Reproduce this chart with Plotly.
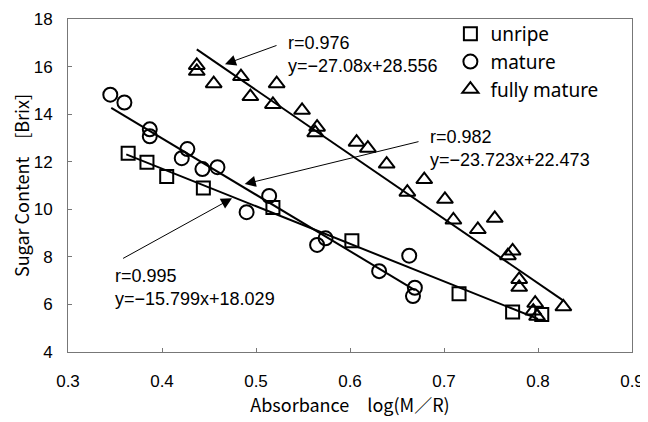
import plotly.graph_objects as go

# ---- data ----
unripe_x = [0.364, 0.384, 0.405, 0.444, 0.518, 0.602, 0.716, 0.773, 0.804]
unripe_y = [12.36, 11.98, 11.38, 10.90, 10.08, 8.68, 6.45, 5.68, 5.58]

mature_x = [0.345, 0.360, 0.387, 0.387, 0.427, 0.421, 0.443, 0.459, 0.514, 0.490,
            0.565, 0.574, 0.631, 0.663, 0.669, 0.667]
mature_y = [14.82, 14.49, 13.36, 13.07, 12.53, 12.15, 11.69, 11.77, 10.56, 9.88,
            8.50, 8.78, 7.40, 8.05, 6.70, 6.35]

fully_x = [0.437, 0.437, 0.455, 0.484, 0.522, 0.494, 0.518, 0.549, 0.565, 0.563,
           0.607, 0.619, 0.639, 0.679, 0.661, 0.701, 0.710, 0.736, 0.754, 0.768,
           0.773, 0.780, 0.780, 0.797, 0.795, 0.799, 0.827]
fully_y = [16.05, 15.80, 15.28, 15.58, 15.28, 14.74, 14.41, 14.16, 13.45, 13.22,
           12.82, 12.57, 11.90, 11.25, 10.72, 10.42, 9.55, 9.15, 9.62, 8.05,
           8.25, 7.05, 6.72, 6.05, 5.72, 5.50, 5.90]

series_names = ["unripe", "mature", "fully mature"]
series_symbols = ["square-open", "circle-open", "triangle-up-open"]

# regression lines (from the equations printed in the chart)
fit_slope = [-15.799, -23.723, -27.08]
fit_intercept = [18.029, 22.473, 28.556]
fit_x_start = [0.362, 0.346, 0.437]
fit_x_end = [0.800, 0.669, 0.827]
fit_r = ["0.995", "0.982", "0.976"]

x_ticks = [0.3, 0.4, 0.5, 0.6, 0.7, 0.8, 0.9]
y_ticks = [4, 6, 8, 10, 12, 14, 16, 18]

# label positions (data coords, top-left of each label block)
label_pos = [(0.348, 7.71), (0.683, 13.56), (0.532, 17.50)]
arrow_tail = [(0.357, 7.90), (0.6745, 12.86), (0.5234, 16.91)]
arrow_tip = [(0.4745, 10.46), (0.488, 11.06), (0.467, 16.10)]

fig = go.Figure()

xs = [unripe_x, mature_x, fully_x]
ys = [unripe_y, mature_y, fully_y]
sizes = [13, 14, 14]

for i in range(3):
    x0, x1 = fit_x_start[i], fit_x_end[i]
    fig.add_trace(go.Scatter(
        x=[x0, x1],
        y=[fit_slope[i] * x0 + fit_intercept[i], fit_slope[i] * x1 + fit_intercept[i]],
        mode="lines", line=dict(color="black", width=2), showlegend=False,
        hoverinfo="skip"))

for i in range(3):
    fig.add_trace(go.Scatter(
        x=xs[i], y=ys[i], mode="markers", name=series_names[i],
        marker=dict(symbol=series_symbols[i], size=sizes[i], color="black",
                    line=dict(color="black", width=2))))

annotations = []
for i in range(3):
    tx, ty = arrow_tail[i]
    hx, hy = arrow_tip[i]
    annotations.append(dict(
        x=hx, y=hy, ax=tx, ay=ty, xref="x", yref="y", axref="x", ayref="y",
        text="", showarrow=True, arrowhead=2, arrowsize=2.2, arrowwidth=1,
        arrowcolor="black"))
    lx, ly = label_pos[i]
    sign = "+" if fit_intercept[i] >= 0 else "-"
    eq = "y=\u2212{:g}x{}{:.3f}".format(abs(fit_slope[i]), sign, fit_intercept[i])
    annotations.append(dict(
        x=lx, y=ly, xref="x", yref="y", xanchor="left", yanchor="top",
        align="left", showarrow=False,
        text="r={}<br>{}".format(fit_r[i], eq),
        font=dict(family="Liberation Sans, Arial, sans-serif", size=18, color="black")))

# the page body adds an 8px offset, so the figure is drawn 8px smaller
fig.update_layout(
    width=640, height=414,
    margin=dict(l=60, r=16, t=11, b=70, autoexpand=False),
    paper_bgcolor="white", plot_bgcolor="white",
    font=dict(family="Noto Sans CJK JP, sans-serif", color="black"),
    annotations=annotations,
    legend=dict(x=0.678, y=1.012, xanchor="left", yanchor="top",
                font=dict(family="Noto Sans, sans-serif", size=19, color="black"),
                bgcolor="rgba(0,0,0,0)", itemwidth=30),
    xaxis=dict(range=[0.3, 0.9], tickvals=x_ticks, ticktext=["{:.1f}".format(v) for v in x_ticks],
               showgrid=False, zeroline=False, showline=True, linecolor="#777",
               linewidth=1, mirror=True, ticks="inside", ticklen=4, tickcolor="#777",
               ticklabelstandoff=14, automargin=False, ticklabeloverflow="allow",
               tickfont=dict(size=17, family="Liberation Sans, Arial, sans-serif"),
               title=dict(text="Absorbance\u3000log(M\uff0fR)", standoff=6,
                          font=dict(size=18, family="Noto Sans CJK JP, sans-serif"))),
    yaxis=dict(range=[4, 18], tickvals=y_ticks,
               showgrid=False, zeroline=False, showline=True, linecolor="#777",
               linewidth=1, mirror=True, ticks="inside", ticklen=4, tickcolor="#777",
               ticklabelstandoff=11, automargin=False, ticklabeloverflow="allow",
               tickfont=dict(size=17, family="Liberation Sans, Arial, sans-serif"),
               title=dict(text="Sugar Content\u3000[Brix]", standoff=4,
                          font=dict(size=18, family="Noto Sans CJK JP, sans-serif"))),
)

fig.write_html("out.html")
